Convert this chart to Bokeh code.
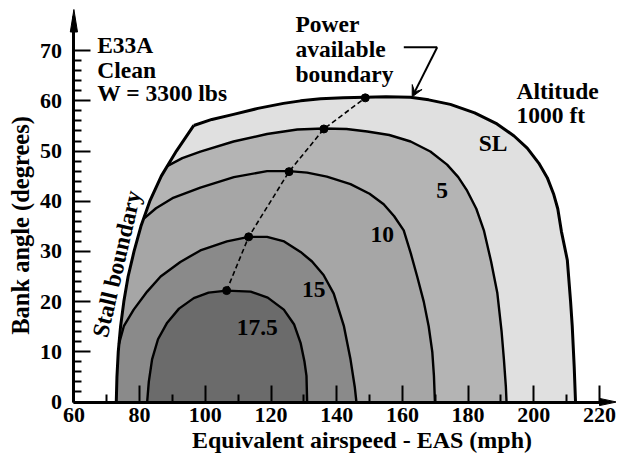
import math
from bokeh.plotting import figure
from bokeh.models import Range1d, FixedTicker, Label, Arrow, VeeHead
from bokeh.embed import file_html
from bokeh.resources import INLINE

# ---------------- data ----------------
stall_speed = [72.9, 73.1, 73.5, 74.2, 75.2, 76.5, 78.3, 80.4, 83.1, 86.6, 91.2, 96.5]
stall_bank = [0.0, 5.0, 10.0, 15.0, 20.0, 25.0, 30.0, 35.0, 40.0, 45.0, 50.0, 55.1]

sl_speed = [96.5, 102.0, 108.6, 116.0, 123.8, 129.0, 135.1, 142.0, 148.7, 155.0, 162.4, 168.0,
            174.6, 182.0, 188.8, 194.0, 198.0, 201.5, 204.1, 206.0, 207.3, 208.4, 210.2, 211.2,
            211.7, 212.3, 212.7]
sl_bank = [55.1, 56.3, 57.3, 58.5, 59.5, 60.0, 60.4, 60.6, 60.7, 60.8, 60.7, 60.2,
           59.3, 57.6, 55.4, 53.0, 50.6, 47.6, 44.7, 41.5, 38.5, 34.0, 28.3, 20.0,
           15.1, 7.0, 0.0]

c5_speed = [88.4, 93.0, 98.5, 108.6, 118.8, 128.0, 136.1, 143.0, 149.3, 156.0, 162.5, 168.5,
            173.6, 177.0, 179.7, 182.5, 184.8, 187.0, 188.9, 190.2, 190.9, 191.5, 191.7]
c5_bank = [47.0, 48.6, 49.9, 51.9, 53.4, 54.3, 54.5, 54.4, 53.9, 53.2, 51.9, 49.9,
           47.3, 44.8, 42.1, 38.5, 34.2, 28.0, 21.7, 14.0, 8.5, 3.0, 0.0]

c10_speed = [81.2, 85.0, 90.0, 98.5, 108.7, 118.8, 125.5, 131.0, 137.0, 144.2, 150.0, 154.3,
             157.5, 160.4, 162.6, 164.5, 166.5, 168.0, 169.1, 169.6, 169.9]
c10_bank = [36.5, 38.6, 40.6, 42.7, 44.8, 46.0, 46.0, 45.7, 44.9, 43.4, 41.5, 39.4,
            37.0, 34.2, 29.5, 25.0, 20.0, 15.1, 10.0, 5.2, 0.0]

c15_speed = [73.7, 75.2, 78.2, 82.3, 86.4, 92.4, 98.5, 106.6, 113.2, 118.8, 124.0, 129.0,
             132.5, 136.0, 139.1, 142.2, 144.2, 145.5, 146.0]
c15_bank = [11.5, 15.1, 18.4, 22.0, 25.0, 27.9, 30.2, 32.0, 32.9, 32.9, 32.0, 29.9,
            28.0, 25.3, 21.6, 15.1, 8.5, 3.0, 0.0]

c175_speed = [82.3, 82.8, 83.8, 85.6, 88.4, 92.0, 96.5, 101.0, 106.5, 113.8, 119.0, 123.9,
              127.0, 129.0, 130.2, 130.8, 131.0]
c175_bank = [0.0, 4.0, 8.5, 12.5, 15.8, 18.6, 20.7, 21.8, 22.2, 22.0, 20.8, 18.4,
             15.5, 11.8, 8.0, 5.2, 0.0]

pa_speed = [106.5, 113.2, 125.5, 136.1, 148.7]
pa_bank = [22.2, 32.9, 45.9, 54.4, 60.6]

altitude_labels = ["SL", "5", "10", "15", "17.5"]
region_colors = ["#e0e0e0", "#b4b4b4", "#a6a6a6", "#8a8a8a", "#6b6b6b"]

x_ticks = [60, 80, 100, 120, 140, 160, 180, 200, 220]
x_minor = [70, 90, 110, 130, 150, 170, 190, 210]
y_ticks = [0, 10, 20, 30, 40, 50, 60, 70]
y_minor = [b for b in range(2, 70, 2) if b % 10 != 0]

# ---------------- layout ----------------
W, H = 616, 453
AX_X, AX_Y = 73.4, 401.5        # figure pixels of the axes corner (60 mph, 0 deg)
SX, SY = 3.285, 5.019           # px per mph, px per degree
X_LO, X_HI = 60 - AX_X / SX, 60 + (W - AX_X) / SX
Y_LO, Y_HI = -(H - AX_Y) / SY, AX_Y / SY


def fx(px):                      # figure pixel -> speed
    return 60 + (px - AX_X) / SX


def fy(py):                      # figure pixel -> bank angle
    return (AX_Y - py) / SY


def rx(px):                      # reference pixel -> speed
    return 60 + (px - 73.4) / 3.285


def ry(py):                      # reference pixel -> bank angle
    return (406.3 - py) / 5.066


FONT = "Liberation Serif"

p = figure(width=W, height=H, x_range=Range1d(X_LO, X_HI), y_range=Range1d(Y_LO, Y_HI),
           output_backend="svg", toolbar_location=None,
           min_border_left=0, min_border_right=0, min_border_top=0, min_border_bottom=0)
p.outline_line_color = None
p.grid.visible = False
p.background_fill_color = "white"
p.border_fill_color = "white"

# regions (outermost first)
curves = [(sl_speed, sl_bank), (c5_speed, c5_bank), (c10_speed, c10_bank),
          (c15_speed, c15_bank), (c175_speed, c175_bank)]
for (cs, cb), col in zip(curves, region_colors):
    left_s = [s for s, b in zip(stall_speed, stall_bank) if b < cb[0]]
    left_b = [b for b in stall_bank if b < cb[0]]
    p.patch(left_s + list(cs), left_b + list(cb), fill_color=col, line_color=None)

for i, (cs, cb) in enumerate(curves):
    p.line(cs, cb, line_color="black", line_width=3 if i == 0 else 2.4, line_join="round")

p.line(stall_speed, stall_bank, line_color="black", line_width=3, line_join="round")

# power available boundary
p.line(pa_speed, pa_bank, line_color="black", line_width=1.6, line_dash="5 3")
p.scatter(pa_speed, pa_bank, size=8, fill_color="black", line_color="black")

# axes, drawn through the corner (60 mph, 0 deg)
y_tip = fy(9.0)
for ax in (p.xaxis[0], p.yaxis[0]):
    ax.axis_line_width = 3
    ax.axis_line_color = "black"
    ax.major_tick_in = 17
    ax.major_tick_out = 0
    ax.minor_tick_in = 8
    ax.minor_tick_out = 0
    ax.major_tick_line_width = 2
    ax.minor_tick_line_width = 2
    ax.major_tick_line_color = "black"
    ax.minor_tick_line_color = "black"
    ax.major_label_text_font = FONT
    ax.major_label_text_font_style = "bold"
    ax.major_label_text_font_size = "22px"
    ax.major_label_text_color = "black"

p.xaxis[0].ticker = FixedTicker(ticks=x_ticks, minor_ticks=x_minor)
p.yaxis[0].ticker = FixedTicker(ticks=y_ticks, minor_ticks=y_minor)
p.xaxis[0].fixed_location = 0
p.yaxis[0].fixed_location = 60
p.xaxis[0].bounds = (60, fx(604))
p.yaxis[0].bounds = (0, fy(16))
p.xaxis[0].major_label_standoff = 6
p.yaxis[0].major_label_standoff = 12

# axis arrow heads
p.patch([fx(AX_X - 3.6), fx(AX_X), fx(AX_X + 3.6)], [fy(31.5), y_tip, fy(31.5)],
        fill_color="black", line_color="black", line_width=1)
p.patch([fx(599), fx(W), fx(599)], [fy(AX_Y - 3.6), 0, fy(AX_Y + 3.6)],
        fill_color="black", line_color="black", line_width=1)


def text(t, x, y, size=23.5, align="left", angle=0):
    # the renderer draws the alphabetic baseline about 0.3 em low: compensate
    off = 0.3 * size
    th = math.radians(angle)
    x = x - off * math.sin(th) / SX
    y = y + off * math.cos(th) / SY
    p.add_layout(Label(x=x, y=y, text=t, text_font=FONT, text_font_style="bold",
                       text_font_size=f"{size}px", text_align=align,
                       text_baseline="alphabetic", text_color="black",
                       angle=angle, angle_units="deg"))


# axis titles
text("Equivalent airspeed - EAS (mph)", fx(361.5), fy(447), size=24, align="center")
text("Bank angle (degrees)", fx(27), fy(225), size=24.5, align="center", angle=90)

# annotations
text("E33A", rx(96.7), ry(53.3))
text("Clean", rx(96.7), ry(78.3))
text("W = 3300 lbs", rx(96.7), ry(101.7))
text("Power", rx(295), ry(32.3))
text("available", rx(295), ry(57.3))
text("boundary", rx(295), ry(82.3))
text("Altitude", rx(516), ry(99.3))
text("1000 ft", rx(516), ry(123.3))
text("Stall boundary", rx(106), ry(342), angle=77)

label_pos = [(492.5, 152.3), (441.7, 200), (381.7, 244), (313.3, 300), (256.7, 338)]
for lab, (px, py) in zip(altitude_labels, label_pos):
    text(lab, rx(px), ry(py), align="center")

# pointer to the power-available boundary
p.line([rx(403.3), rx(436.7)], [ry(48.3), ry(48.3)], line_color="black", line_width=2)
p.add_layout(Arrow(x_start=rx(436.7), y_start=ry(48.3), x_end=rx(411.7), y_end=ry(98.3),
                   line_color="black", line_width=2,
                   end=VeeHead(size=11, fill_color="black", line_color="black")))

open("out.html", "w").write(file_html(p, INLINE))
